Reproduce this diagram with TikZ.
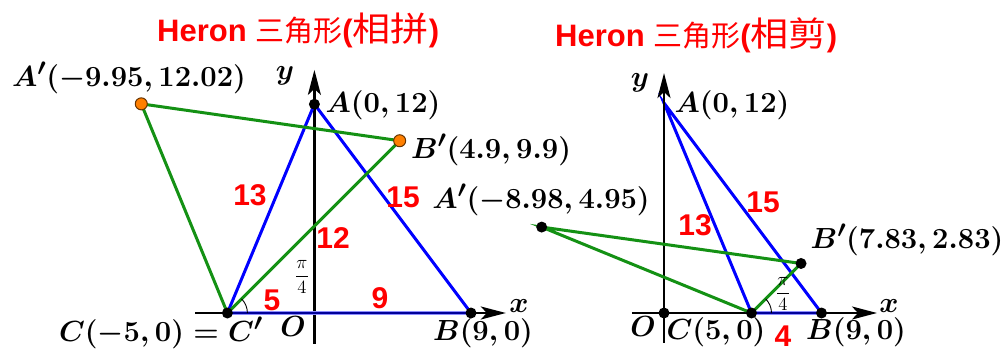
\documentclass[tikz,border=0pt]{standalone}
\usepackage{graphicx}
\usepackage[no-math]{fontspec}
\newfontfamily\numfont{Liberation Sans}
\newfontfamily\cjk{Noto Sans CJK SC}
\usetikzlibrary{arrows.meta}
\definecolor{geoblue}{RGB}{0,0,255}
\definecolor{geogreen}{RGB}{20,145,20}
\definecolor{geoorange}{RGB}{255,127,0}
\definecolor{geohalo}{RGB}{140,140,255}
\definecolor{geored}{RGB}{255,0,0}
\newcommand{\mlab}[1]{\scalebox{1.17}{$#1$}}
\newcommand{\pifour}{\scalebox{1.3}{$\displaystyle\frac{\pi}{4}$}}
\newcommand{\latn}[1]{{\numfont\bfseries\fontsize{31}{34}\selectfont #1}}
\begin{document}
\begin{tikzpicture}[x=1pt,y=-1pt,
  lbl/.style={font=\fontsize{24.88}{30}\selectfont\boldmath, inner sep=0pt},
  numlbl/.style={font=\numfont\bfseries\fontsize{30}{32}\selectfont, text=geored, inner sep=0pt},
  anglbl/.style={font=\fontsize{14.4}{17}\selectfont, inner sep=0pt},
  titlelbl/.style={text=geored, inner sep=0pt, anchor=west},
  blueln/.style={draw=geoblue, line width=3pt},
  greenln/.style={draw=geogreen, line width=3pt},
  haloln/.style={draw=geohalo, line width=4.5pt},
  axisln/.style={draw=black, line width=2.2pt, -{Stealth[length=25pt,width=13pt,inset=6pt]}},
  arcln/.style={draw=black, line width=0.9pt},
  bdot/.style={circle, fill=black, inner sep=0pt, minimum size=11pt},
  odot/.style={circle, fill=geoorange, draw=black!60!geoorange, line width=1pt, inner sep=0pt, minimum size=12pt}
]
\useasboundingbox (0,0) rectangle (1008,352);
\fill[white] (0,0) rectangle (1008,352);

% ---------------- titles ----------------
\node[titlelbl] (t1) at (157,30) {\latn{Heron }{\cjk\fontsize{29}{32}\selectfont 三角形}\latn{(}{\cjk\fontsize{34}{36}\selectfont\scalebox{1.12}[1]{相拼}}\latn{)}};
\node[titlelbl] (t2) at (555,35) {\latn{Heron }{\cjk\fontsize{29}{32}\selectfont 三角形}\latn{(}{\cjk\fontsize{34}{36}\selectfont\scalebox{1.12}[1]{相剪}}\latn{)}};

% ---------------- left diagram ----------------
\begin{scope}[shift={(314.4,313)}, x=17.4pt, y=17.4pt]
  \coordinate (L-xs) at (-6.86,0);
  \coordinate (L-xe) at (11.0,0);
  \coordinate (L-ys) at (0,-1.78);
  \coordinate (L-ye) at (0,13.97);
  \coordinate (L-O) at (0,0);
  \coordinate (L-A) at (0,12);
  \coordinate (L-B) at (9,0);
  \coordinate (L-C) at (-5,0);
  \coordinate (L-Ap) at (-9.95,12.02);
  \coordinate (L-Bp) at (4.9,9.9);
  \draw[axisln] (L-xs) -- (L-xe);
  \draw[axisln] (L-ys) -- (L-ye);
  \draw[haloln] (L-C) -- (L-B);
  \draw[draw=geoblue!60!black, line width=1.5pt] (L-C) -- (L-B);
  \draw[blueln] (L-C) -- (L-A) -- (L-B);
  \draw[greenln] (L-C) -- (L-Ap) -- (L-Bp) -- cycle;
  \draw[arcln] (L-C) ++(0:20pt) arc[start angle=0, end angle=45, radius=20pt];
  \node[bdot] (L-Cd) at (L-C) {};
  \node[bdot] (L-Bd) at (L-B) {};
  \node[bdot] (L-Ad) at (L-A) {};
  \node[odot] (L-Apd) at (L-Ap) {};
  \node[odot] (L-Bpd) at (L-Bp) {};
\end{scope}
\node[lbl] (L-lAp) at (129,78) {\mlab{A'(-9.95,12.02)}};
\node[lbl] (L-ly) at (285,76) {\mlab{y}};
\node[lbl] (L-lA) at (383,105) {\mlab{A(0,12)}};
\node[lbl] (L-lBp) at (491,150) {\mlab{B'(4.9,9.9)}};
\node[lbl] (L-lC) at (161,333) {\mlab{C(-5,0)=C'}};
\node[lbl] (L-lO) at (293,327) {\mlab{O}};
\node[lbl] (L-lB) at (483,333) {\mlab{B(9,0)}};
\node[lbl] (L-lx) at (519,306) {\mlab{x}};
\node[numlbl] (L-n13) at (250,195) {13};
\node[numlbl] (L-n15) at (403,197) {15};
\node[numlbl] (L-n12) at (333,238) {12};
\node[numlbl] (L-n5) at (272,300) {5};
\node[numlbl] (L-n9) at (380,298) {9};
\node[anglbl] (L-ang) at (302,277) {\pifour};

% ---------------- right diagram ----------------
\begin{scope}[shift={(664,313)}, x=17.5pt, y=17.5pt]
  \coordinate (R-xs) at (-1.83,0);
  \coordinate (R-xe) at (12.17,0);
  \coordinate (R-ys) at (0,-1.71);
  \coordinate (R-ye) at (0,13.71);
  \coordinate (R-O) at (0,0);
  \coordinate (R-A) at (0,12);
  \coordinate (R-B) at (9,0);
  \coordinate (R-C) at (5,0);
  \coordinate (R-Ap) at (-6.99,4.91);
  \coordinate (R-Bp) at (7.83,2.83);
  \draw[axisln] (R-xs) -- (R-xe);
  \draw[haloln] (R-C) -- (R-B);
  \draw[draw=geoblue!60!black, line width=1.5pt] (R-C) -- (R-B);
  \draw[blueln] (R-C) -- (R-A) -- (R-B);
  \draw[axisln] (R-ys) -- (R-ye);
  \draw[greenln] (R-C) -- (R-Ap) -- (R-Bp) -- cycle;
  \draw[arcln] (R-C) ++(0:20pt) arc[start angle=0, end angle=45, radius=20pt];
  \node[bdot] (R-Od) at (R-O) {};
  \node[bdot] (R-Cd) at (R-C) {};
  \node[bdot] (R-Bd) at (R-B) {};
  \node[bdot] (R-Apd) at (R-Ap) {};
  \node[bdot] (R-Bpd) at (R-Bp) {};
\end{scope}
\node[lbl] (R-ly) at (640,83) {\mlab{y}};
\node[lbl] (R-lA) at (732,105) {\mlab{A(0,12)}};
\node[lbl] (R-lAp) at (541,200) {\mlab{A'(-8.98,4.95)}};
\node[lbl] (R-lBp) at (907,240) {\mlab{B'(7.83,2.83)}};
\node[lbl] (R-lx) at (889,306) {\mlab{x}};
\node[lbl] (R-lO) at (643,327) {\mlab{O}};
\node[lbl] (R-lC) at (716,332) {\mlab{C(5,0)}};
\node[lbl] (R-lB) at (856,332) {\mlab{B(9,0)}};
\node[numlbl] (R-n13) at (695,225) {13};
\node[numlbl] (R-n15) at (763,202) {15};
\node[numlbl] (R-n4) at (783,336) {4};
\node[anglbl] (R-ang) at (783,294) {\pifour};
\end{tikzpicture}
\end{document}
